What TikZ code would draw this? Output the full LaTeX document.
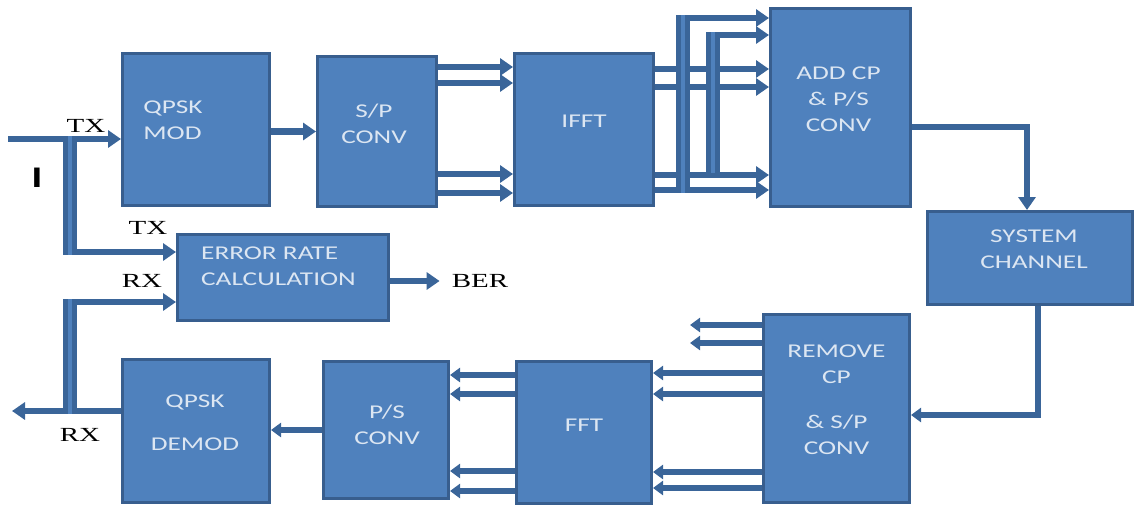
\documentclass[tikz,border=0pt]{standalone}
\usepackage{fontspec}
\setmainfont{Carlito}[FakeStretch=1.4]
\newfontfamily\lblfont{Liberation Serif}[FakeStretch=1.45]
\usetikzlibrary{arrows.meta}
\definecolor{blkfill}{HTML}{4F81BD}
\definecolor{blkline}{HTML}{385E8E}
\definecolor{flowcol}{HTML}{3A6599}
\definecolor{txtcol}{HTML}{DCE6F2}

\tikzset{
  blk/.style={draw=blkline, fill=blkfill, line width=3pt, inner sep=0pt},
  txt/.style={text=txtcol, font=\fontsize{19.5}{26}\selectfont, align=center, inner sep=0pt},
  lbl/.style={font=\lblfont\fontsize{20}{24}\selectfont, inner sep=0pt},
  flow/.style={draw=flowcol, line width=6.5pt, -{Triangle[length=13pt, width=17pt]}},
  back/.style={draw=flowcol, line width=6.5pt, -{Triangle[length=10pt, width=14pt]}},
  bus/.style={draw=flowcol, line width=5pt, double=blkfill, double distance=3.5pt}
}

\begin{document}
\begin{tikzpicture}[x=1pt, y=-1pt]
  \useasboundingbox (0,0) rectangle (1138,506);

  % transmitter chain
  \node[blk, minimum width=147pt, minimum height=152pt,
        label={[txt, align=left, xshift=-23pt, yshift=9.5pt]center:QPSK\\MOD}] (mod) at (196,129.5) {};
  \node[blk, minimum width=119pt, minimum height=150pt,
        label={[txt, xshift=-3pt, yshift=7.5pt]center:S/P\\CONV}] (sp) at (377,131.5) {};
  \node[blk, minimum width=139pt, minimum height=152pt,
        label={[txt, yshift=8.5pt]center:IFFT}] (ifft) at (584,129.5) {};
  \node[blk, minimum width=140pt, minimum height=198pt,
        label={[txt, xshift=-2pt, yshift=8.5pt]center:ADD CP\\\& P/S\\CONV}] (addcp) at (840.5,107.5) {};
  \node[blk, minimum width=205pt, minimum height=93pt,
        label={[txt, xshift=4pt, yshift=9pt]center:SYSTEM\\CHANNEL}] (chan) at (1030,258) {};

  % receiver chain
  \node[blk, minimum width=146pt, minimum height=188pt,
        label={[txt, yshift=9pt]center:REMOVE\\CP\\[19pt]\& S/P\\CONV}] (rmcp) at (836.5,408.5) {};
  \node[blk, minimum width=135pt, minimum height=142pt,
        label={[txt, yshift=7.5pt]center:FFT}] (fft) at (584,432.5) {};
  \node[blk, minimum width=125pt, minimum height=137pt,
        label={[txt, xshift=1pt, yshift=5.5pt]center:P/S\\CONV}] (ps) at (386,430) {};
  \node[blk, minimum width=147pt, minimum height=143pt,
        label={[txt, xshift=-1pt, yshift=8pt]center:QPSK\\[17pt]DEMOD}] (demod) at (196,431) {};
  \node[blk, minimum width=211pt, minimum height=86pt,
        label={[txt, align=left, xshift=-4.5pt, yshift=11pt]center:ERROR RATE\\CALCULATION}] (err) at (283,277.5) {};

  % labels
  \node[lbl] (txa) at (86,126) {TX};
  \node[lbl] (txb) at (148,228) {TX};
  \node[lbl] (rxa) at (142,281) {RX};
  \node[lbl] (rxb) at (80,435) {RX};
  \node[lbl] (ber) at (480,281) {BER};
  \node[font=\bfseries\fontsize{30}{30}\selectfont, inner sep=0pt] (inp) at (37,178) {I};

  \coordinate (txin) at (8,139);
  \coordinate (txsplit) at (70,139);
  \coordinate (txlow) at (70,252);
  \coordinate (rxout) at (12,411);
  \coordinate (rxsplit) at (70,411);
  \coordinate (rxhigh) at (70,302);
  \coordinate (busa) at (683,18);
  \coordinate (busb) at (713,35);
  \coordinate (spare) at (690,0);

  % forward links
  \draw[flow] (txin) -- (txin -| mod.west);
  \draw[flow] (txlow) -- (txlow -| err.west);
  \draw[bus] ([yshift=3pt]txsplit) -- ([yshift=-3pt]txlow);
  \draw[flow] (mod.east |- sp.west) -- (sp.west);
  \foreach \y in {67,83,174,193}
    \draw[flow] (sp.east |- 0,\y) -- (ifft.west |- 0,\y);
  \foreach \y in {69,87,175,190}
    \draw[flow] (ifft.east |- 0,\y) -- (addcp.west |- 0,\y);
  \draw[flow] ([xshift=-6pt]busa) -- (busa -| addcp.west);
  \draw[flow] ([xshift=-6pt]busb) -- (busb -| addcp.west);
  \draw[bus] ([yshift=3pt]busa) -- (busa |- 0,193);
  \draw[bus] ([yshift=3pt]busb) -- (busb |- 0,173);
  \draw[flow] (addcp.east |- 0,127) -| ([xshift=-3pt]chan.north);

  % return links
  \draw[back] ([xshift=8pt]chan.south) |- (rmcp.east |- 0,415);
  \foreach \y in {325,343}
    \draw[back] (rmcp.west |- 0,\y) -- (spare |- 0,\y);
  \foreach \y in {373,394,472,488}
    \draw[back] (rmcp.west |- 0,\y) -- (fft.east |- 0,\y);
  \foreach \y in {375,394,471,491}
    \draw[back] (fft.west |- 0,\y) -- (ps.east |- 0,\y);
  \draw[back] (ps.west) -- (ps.west -| demod.east);
  \draw[flow] (demod.west |- rxout) -- (rxout);
  \draw[flow] (rxhigh) -- (rxhigh -| err.west);
  \draw[bus] ([yshift=3pt]rxhigh) -- ([yshift=-3pt]rxsplit);
  \draw[flow] (err.east |- ber) -- ([xshift=-12pt]ber.west);
\end{tikzpicture}
\end{document}
